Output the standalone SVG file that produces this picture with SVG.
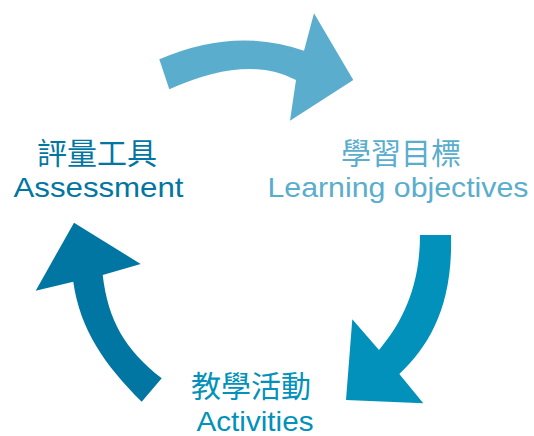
<svg xmlns="http://www.w3.org/2000/svg" width="534" height="436" viewBox="0 0 534 436">
<style>
.zh{font-family:"Liberation Sans","Noto Sans CJK TC",sans-serif;font-size:30px;text-anchor:middle}
.en{font-family:"Liberation Sans","Noto Sans CJK TC",sans-serif;font-size:28px;text-anchor:middle}
.c1{fill:#5aadcd}
.c2{fill:#0291ba}
.c3{fill:#0276a2}
</style>
<rect width="534" height="436" fill="#ffffff"/>
<g id="connectors">
<path id="arrow-top" class="c1" d="M159.3,59.3 Q234.4,26.4 304,50.7 L314,13.3 L353.3,80 L290,120.7 L296,80 Q247.4,54 169.3,89.3 Z"/>
<path id="arrow-right" class="c2" d="M420,235 L451,235 C453,305 430,345 399.3,374 L423.3,403.3 L346,400 L352.3,319.3 L379,350 C400,325 420,290 420,235 Z"/>
<path id="arrow-left" class="c3" d="M161.7,378.3 L141.7,401.7 C105,365 80,330 73.3,281.7 L35.7,290.7 L74,222.7 L140.7,264 L102.7,275 C108,320 125,350 161.7,378.3 Z"/>
</g>
<g id="node-assessment">
<text class="zh c3" x="97" y="164">評量工具</text>
<text class="en c3" x="98.5" y="197" textLength="170" lengthAdjust="spacingAndGlyphs">Assessment</text>
</g>
<g id="node-objectives">
<text class="zh c1" x="401" y="164">學習目標</text>
<text class="en c1" x="398" y="197" textLength="261" lengthAdjust="spacingAndGlyphs">Learning objectives</text>
</g>
<g id="node-activities">
<text class="zh c2" x="251" y="397">教學活動</text>
<text class="en c2" x="255" y="431" textLength="117" lengthAdjust="spacingAndGlyphs">Activities</text>
</g>
</svg>
